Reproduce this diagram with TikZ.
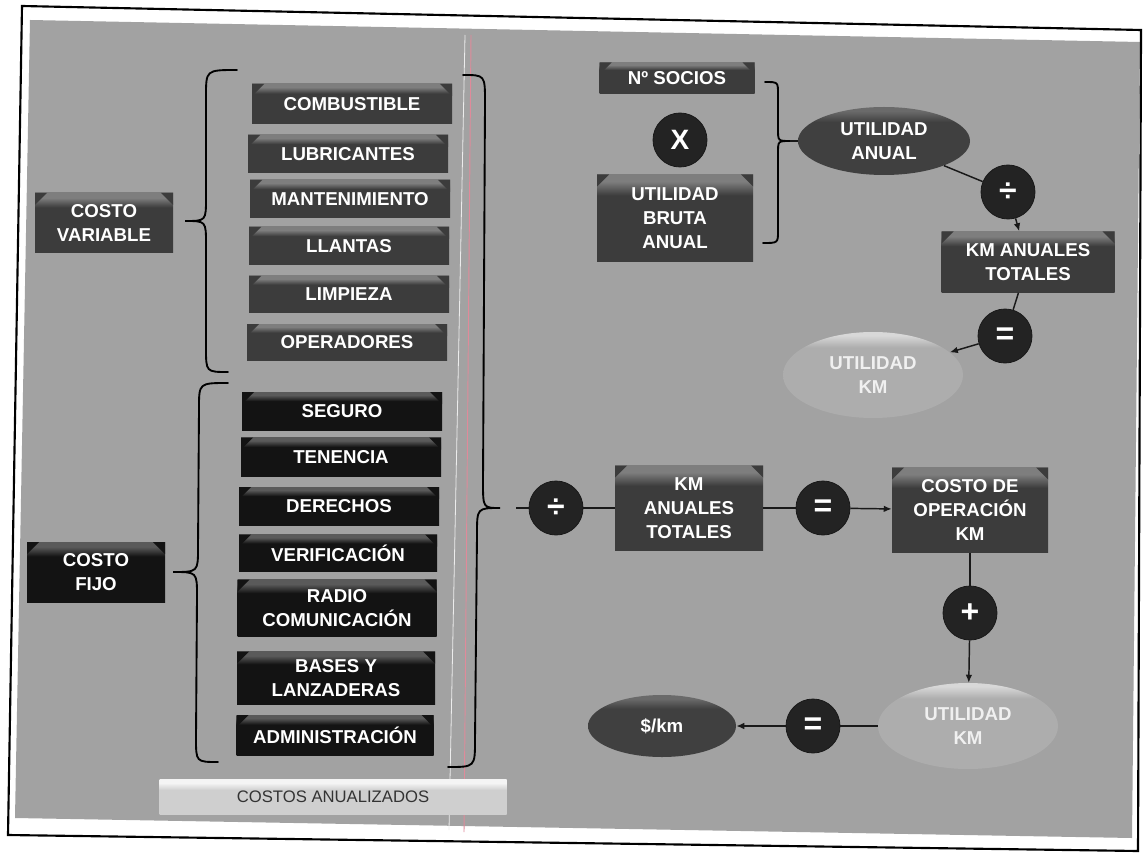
\documentclass[tikz,border=0pt]{standalone}
\usepackage{fontspec}
\setmainfont{Liberation Sans}
\usetikzlibrary{shapes.geometric,arrows.meta}
\definecolor{bg}{HTML}{A2A2A2}
\definecolor{varc}{HTML}{3C3C3C}
\definecolor{vartop}{HTML}{7E7E7E}
\definecolor{fixc}{HTML}{131313}
\definecolor{fixtop}{HTML}{5A5A5A}
\definecolor{circc}{HTML}{232323}
\definecolor{le}{HTML}{ADADAD}
\definecolor{letop}{HTML}{D8D8D8}
\definecolor{de}{HTML}{404040}
\definecolor{detop}{HTML}{6A6A6A}
\definecolor{cabot}{HTML}{CFCFCF}
\definecolor{catop}{HTML}{F4F4F4}
\definecolor{pinkline}{HTML}{E08A9A}
\pgfdeclareverticalshading{varshade}{100bp}{color(0bp)=(varc); color(25bp)=(varc); color(63bp)=(varc); color(71bp)=(vartop); color(100bp)=(vartop)}
\pgfdeclareverticalshading{fixshade}{100bp}{color(0bp)=(fixc); color(25bp)=(fixc); color(63bp)=(fixc); color(71bp)=(fixtop); color(100bp)=(fixtop)}
\pgfdeclareverticalshading{lellshade}{100bp}{color(0bp)=(le); color(25bp)=(le); color(66bp)=(le); color(73bp)=(letop); color(100bp)=(letop)}
\pgfdeclareverticalshading{dellshade}{100bp}{color(0bp)=(de); color(25bp)=(de); color(64bp)=(de); color(72bp)=(detop); color(100bp)=(detop)}
\pgfdeclareverticalshading{cashade}{100bp}{color(0bp)=(cabot); color(25bp)=(cabot); color(60bp)=(cabot); color(70bp)=(catop); color(100bp)=(catop)}
\newcommand\bxfont{\bfseries\fontsize{14}{18}\selectfont}
\tikzset{
  sz/.style 2 args={minimum width=#1*0.75pt, minimum height=#2*0.75pt},
  wedges/.style={path picture={
      \fill[#1] (path picture bounding box.north west) -- ++(9pt,0pt) -- ++(-9pt,-9pt) -- cycle;
      \fill[#1] (path picture bounding box.north east) -- ++(-9pt,0pt) -- ++(9pt,-9pt) -- cycle;}},
  vbox/.style={shade, shading=varshade, wedges=varc, text=white, font=\bxfont, align=center, inner sep=0pt},
  fbox/.style={shade, shading=fixshade, wedges=fixc, text=white, font=\bxfont, align=center, inner sep=0pt},
  dell/.style={ellipse, shade, shading=dellshade, text=white, font=\bxfont, align=center, inner sep=0pt},
  lell/.style={ellipse, shade, shading=lellshade, text=white!94!black, font=\bxfont, align=center, inner sep=0pt},
  opnode/.style={circle, fill=circc, draw=black!90, line width=0.6pt, minimum size=40.5pt, inner sep=0pt, text=white, font=\bfseries\fontsize{24}{24}\selectfont},
  brace/.style={draw=black, line width=1.4pt, line cap=round},
  conn/.style={draw=black!90, line width=1.1pt},
  arr/.style={conn, -{Latex[length=6pt,width=5pt]}}
}
\begin{document}
\begin{tikzpicture}[x=0.75pt,y=-0.75pt]
\useasboundingbox (0,0) rectangle (1144,855);
\fill[white] (0,0) rectangle (1144,855);
% frame and grey sheet
\coordinate (f1) at (22,6);
\coordinate (f2) at (1141,30);
\coordinate (f3) at (1138,851);
\coordinate (f4) at (8,835);
\coordinate (g1) at (30,20);
\coordinate (g2) at (1140,42);
\coordinate (g3) at (1132,838);
\coordinate (g4) at (15,818);
\fill[bg] (g1) -- (g2) -- (g3) -- (g4) -- cycle;
\draw[line width=1.6pt] (f1) -- (f2) -- (f3) -- (f4) -- cycle;
\coordinate (w1) at (465,35);
\coordinate (w2) at (449,830);
\coordinate (p1) at (471,35);
\coordinate (p2) at (464,832);
\draw[white!85!gray, line width=0.6pt] (w1) -- (w2);
\draw[pinkline, line width=0.7pt] (p1) -- (p2);

% left labels
\node[vbox, sz={138}{60}] (cv) at (104,223) {COSTO\\VARIABLE};
\node[fbox, sz={138}{60}] (cf) at (96,572) {COSTO\\FIJO};

% variable cost items
\node[vbox, sz={200}{40}] (comb) at (352,104) {COMBUSTIBLE};
\node[vbox, sz={200}{38}] (lubr) at (348,154) {LUBRICANTES};
\node[vbox, sz={200}{38}] (mant) at (350,199) {MANTENIMIENTO};
\node[vbox, sz={200}{38}] (llan) at (349,246) {LLANTAS};
\node[vbox, sz={200}{36}] (limp) at (349,294) {LIMPIEZA};
\node[vbox, sz={200}{36}] (oper) at (347,342) {OPERADORES};

% fixed cost items
\node[fbox, sz={200}{38}] (seg) at (342,411) {SEGURO};
\node[fbox, sz={200}{39}] (ten) at (341,457) {TENENCIA};
\node[fbox, sz={200}{38}] (der) at (339,506) {DERECHOS};
\node[fbox, sz={198}{37}] (ver) at (338,553) {VERIFICACIÓN};
\node[fbox, sz={199}{57}] (rad) at (337,608) {RADIO\\COMUNICACIÓN};
\node[fbox, sz={198}{53}] (bas) at (336,678) {BASES Y\\LANZADERAS};
\node[fbox, sz={197}{40}] (adm) at (335,735) {ADMINISTRACIÓN};

\node[shade, shading=cashade, sz={347}{35}, inner sep=0pt, text=black!80, font=\fontsize{12.5}{14}\selectfont] (ca) at (333,797) {COSTOS ANUALIZADOS};

% braces
\coordinate (b1t) at (237,70);
\coordinate (b1tip) at (185,221);
\coordinate (b1b) at (228,372);
\draw[brace] (b1t) .. controls (206,70) .. (206,96) -- (206,198) .. controls (206,221) .. (b1tip) .. controls (206,221) .. (206,244) -- (206,348) .. controls (206,372) .. (b1b);
\coordinate (b2t) at (228,383);
\coordinate (b2tip) at (173,572);
\coordinate (b2b) at (218,762);
\draw[brace] (b2t) .. controls (199,383) .. (199,408) -- (198,548) .. controls (198,572) .. (b2tip) .. controls (197,572) .. (197,596) -- (196,738) .. controls (196,762) .. (b2b);
\coordinate (b3t) at (463,75);
\coordinate (b3tip) at (500,508);
\coordinate (b3b) at (448,767);
\draw[brace] (b3t) .. controls (485,75) .. (485,102) -- (483,482) .. controls (483,508) .. (b3tip) .. controls (477,508) .. (477,534) -- (475,740) .. controls (475,767) .. (b3b);
\coordinate (b4t) at (765,82);
\coordinate (b4tip) at (790,141);
\coordinate (b4b) at (763,243);
\draw[brace] (b4t) .. controls (778,82) .. (778,94) -- (778,129) .. controls (778,141) .. (b4tip) .. controls (778,141) .. (778,153) -- (778,231) .. controls (778,243) .. (b4b);

% top right block
\node[vbox, sz={155}{31}] (soc) at (677,78) {Nº SOCIOS};
\node[opnode, font=\bfseries\fontsize{21}{21}\selectfont] (xop) at (680,140) {X};
\node[vbox, sz={156}{87}] (uba) at (675,218) {UTILIDAD\\BRUTA\\ANUAL};
\node[dell, sz={172}{68}] (ua) at (884,141) {UTILIDAD\\ANUAL};
\node[opnode] (div1) at (1008,192) {÷};
\node[vbox, sz={173}{61}] (km1) at (1028,262) {KM ANUALES\\TOTALES};
\node[opnode] (eq1) at (1005,336) {=};
\node[lell, sz={180}{86}] (uk1) at (873,375) {UTILIDAD\\KM};

% bottom chain
\node[opnode] (div2) at (556,508) {÷};
\node[vbox, sz={148}{85}] (km2) at (689,508) {KM\\ANUALES\\TOTALES};
\node[opnode] (eq2) at (823,508) {=};
\node[vbox, sz={156}{85}] (costo) at (970,510) {COSTO DE\\OPERACIÓN\\KM};
\node[opnode] (plus) at (970,613) {+};
\node[lell, sz={180}{86}] (uk2) at (968,726) {UTILIDAD\\KM};
\node[opnode] (eq3) at (813,726) {=};
\node[dell, sz={148}{62}] (dkm) at (662,726) {\$/km};

% connectors
\draw[conn] (b4tip) -- (ua);
\draw[conn] (ua) -- (div1);
\draw[arr] (div1) -- (km1);
\draw[conn] (km1) -- (eq1);
\draw[arr] (eq1) -- (uk1);
\draw[conn, shorten <=12pt] (b3tip) -- (div2);
\draw[conn] (div2) -- (km2);
\draw[conn] (km2) -- (eq2);
\draw[arr] (eq2) -- (costo);
\draw[conn] (costo) -- (plus);
\draw[arr] (plus) -- (uk2);
\draw[conn] (uk2) -- (eq3);
\draw[arr] (eq3) -- (dkm);
\end{tikzpicture}
\end{document}
